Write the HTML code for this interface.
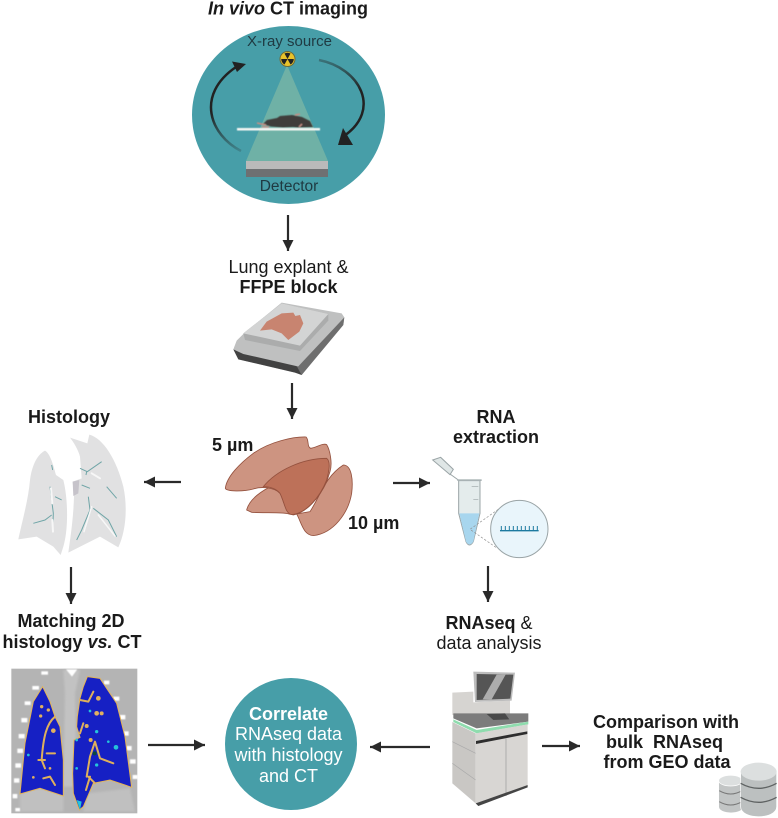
<!DOCTYPE html>
<html><head><meta charset="utf-8"><style>
html,body{margin:0;padding:0;background:#fff}
svg{display:block}
text{font-family:"Liberation Sans",Arial,sans-serif;fill:#1a1a1a}
.b{font-weight:700}
</style></head><body>
<svg width="778" height="818" viewBox="0 0 778 818" xmlns="http://www.w3.org/2000/svg">
<defs>
<marker id="a" viewBox="0 0 10 10" refX="10" refY="5" markerUnits="userSpaceOnUse" markerWidth="11" markerHeight="11" orient="auto"><path d="M0 0L10 5L0 10z" fill="#2a2a2a"/></marker>
<filter id="s"><feGaussianBlur stdDeviation="0.5"/></filter>
<filter id="s1"><feGaussianBlur stdDeviation="1.500"/></filter>
<filter id="s2"><feGaussianBlur stdDeviation="3"/></filter>
<linearGradient id="hl" x1="0" y1="1" x2="0" y2="0"><stop offset="0" stop-color="#222" stop-opacity=".2"/><stop offset=".45" stop-color="#222"/></linearGradient>
<linearGradient id="hr" x1="0" y1="0" x2="0" y2="1"><stop offset="0" stop-color="#222" stop-opacity=".35"/><stop offset=".4" stop-color="#222"/></linearGradient>
</defs>

<!-- CT -->
<text x="288" y="14.500" text-anchor="middle" font-size="18" class="b"><tspan font-style="italic">In vivo</tspan> CT imaging</text>
<ellipse cx="288.500" cy="115" rx="96.500" ry="89" fill="#479ea8"/>
<polygon points="287,65 246,161 328,161" fill="#6fb1a6"/>
<text x="289.500" y="46" text-anchor="middle" font-size="15" style="fill:#1f3a42">X-ray source</text>
<circle cx="287.500" cy="59" r="7.500" fill="#e8c22a" stroke="#6b6a3a"/>
<g fill="#222"><path d="M287.500 59L284.500 53.500A6.500 6.500 0 0 1 290.500 53.500Z"/><path d="M287.500 59L293.800 59A6.500 6.500 0 0 1 290.500 64.500Z"/><path d="M287.500 59L284.500 64.500A6.500 6.500 0 0 1 281.200 59Z"/></g>
<g filter="url(#s)">
<rect x="237" y="128" width="83" height="2.500" fill="#f4f6f3"/>
<path d="M263 124l4-4 10-2 3-2 12-1 10 2 8 4 3 6-15 .5-5-.5-10 .5-12-1z" fill="#403d3a"/>
<path d="M257 123l9 2M262 127l7 0M299 127l3-3M295 115l5-1" stroke="#c58e85" stroke-width="1.500" fill="none"/>
</g>
<rect x="246" y="161" width="82" height="8" fill="#bababa"/>
<rect x="246" y="169" width="82" height="8" fill="#6e7072"/>
<text x="289" y="191" text-anchor="middle" font-size="15.500" style="fill:#1f3a42">Detector</text>
<path d="M241 151C210 135 195 95 236 67" fill="none" stroke="url(#hl)" stroke-width="2.500"/>
<path d="M246 64L232 61.500L237 72Z" fill="#222"/>
<path d="M319 60C360 68 382 110 344 136" fill="none" stroke="url(#hr)" stroke-width="2.500"/>
<path d="M338 145L343 128L353 145Z" fill="#222"/>

<line x1="288" y1="215" x2="288" y2="251" stroke="#2a2a2a" stroke-width="2.200" marker-end="url(#a)"/>
<text x="288.500" y="273" text-anchor="middle" font-size="18">Lung explant &amp;</text>
<text x="288.500" y="293" text-anchor="middle" font-size="18" class="b">FFPE block</text>

<!-- Block -->
<g transform="translate(210,290) scale(.3333)" filter="url(#s)">
<path d="M70 178L80 152L100 132L215 38L395 70L403 82L400 105L275 255L255 248L85 208Z" fill="#bfc0c0"/>
<path d="M70 178L85 208L255 248L275 255L270 232L258 228L100 192Z" fill="#434343"/>
<path d="M262 232L403 82L400 105L275 255Z" fill="#6e6e6e"/>
<path d="M100 130L215 40L355 72L355 92L270 183L105 150Z" fill="#abacac"/>
<path d="M100 130L215 40L355 72L270 167Z" fill="#d3d4d4"/>
<path d="M150 122L170 95L215 70L250 68L256 78L270 75L280 100L268 125L235 150L215 130L185 118Z" fill="#c8846f"/>
</g>
<line x1="292" y1="383" x2="292" y2="419" stroke="#2a2a2a" stroke-width="2.200" marker-end="url(#a)"/>

<!-- Slices -->
<g transform="translate(210,290) scale(.3333)" stroke="#94513e" stroke-width="2.500">
<path d="M300 665C330 620 345 560 400 525C425 525 430 570 425 610C415 670 370 730 310 737C280 735 275 700 260 672Z" fill="#cd9481"/>
<path d="M110 660C120 620 170 590 240 565C280 530 330 500 350 505C365 515 360 540 350 575C330 620 290 670 240 673C225 665 160 670 125 667Z" fill="#cd9481"/>
<path d="M46 595C50 560 90 520 130 490C180 455 250 440 288 441C298 450 290 470 302 475C320 472 340 458 350 464C360 480 368 520 360 545C345 600 300 665 250 675C225 670 225 640 210 610C190 590 150 590 130 597C100 605 50 605 46 595Z" fill="#cd9481"/>
<path d="M160 590C200 540 280 505 350 505C362 515 358 540 350 570C330 620 290 670 245 674C225 670 225 640 210 610C195 592 175 590 160 590Z" fill="#bd7159"/>
</g>
<text x="212" y="451" font-size="18" class="b">5 µm</text>
<text x="348" y="529" font-size="18" class="b">10 µm</text>

<!-- Histology -->
<text x="69" y="423" text-anchor="middle" font-size="18" class="b">Histology</text>
<g transform="translate(0,400) scale(.3333)">
<path d="M135 152C150 160 160 195 168 225L190 240C205 300 205 390 190 440L182 465L160 440L110 410L55 418C65 370 85 300 90 240C95 200 110 165 135 152Z" fill="#e1e1e2"/>
<path d="M268 104C310 115 350 180 370 260C385 330 375 400 355 442L300 410L205 458C210 420 220 360 222 290L218 245L245 235L240 170C235 150 220 125 210 113L262 130Z" fill="#e1e1e2"/>
<g fill="none" stroke="#6fa5a7" stroke-width="3" filter="url(#s)">
<path d="M155 195L158 210M150 260L160 340L158 395M100 370L135 360L155 345M165 290L185 300"/>
<path d="M240 205L262 215L305 185M260 215L258 225M265 290L270 330L245 390L230 420M280 325L325 360L350 410M320 260L350 295M245 255L270 265"/>
</g>
<g fill="none" stroke="#f7f7f7" stroke-linecap="round"><path d="M153 265L157 310M157 360L159 395" stroke-width="6"/><path d="M275 220L300 235" stroke-width="6"/><path d="M275 320L252 395M295 345L345 408" stroke-width="4.500"/></g>
<path d="M218 245L238 240L235 280L220 288Z" fill="#c6c3ca"/>
</g>
<line x1="181" y1="482" x2="144" y2="482" stroke="#2a2a2a" stroke-width="2.200" marker-end="url(#a)"/>
<line x1="393" y1="483" x2="430" y2="483" stroke="#2a2a2a" stroke-width="2.200" marker-end="url(#a)"/>
<line x1="71" y1="567" x2="71" y2="604" stroke="#2a2a2a" stroke-width="2.200" marker-end="url(#a)"/>
<text x="71" y="627" text-anchor="middle" font-size="18" class="b">Matching 2D</text>
<text x="72" y="648" text-anchor="middle" font-size="18" class="b">histology <tspan font-style="italic">vs.</tspan> CT</text>

<!-- CT image -->
<g transform="translate(0,660) scale(.3333)">
<rect x="34" y="26" width="378" height="434" fill="#b4b4b4"/>
<g filter="url(#s2)">
<path d="M190 30H240L225 100L230 380H190L195 100Z" fill="#c2c2c2"/>
<path d="M60 400Q120 370 190 405L190 455H60ZM260 400L390 385L405 455H250Z" fill="#c0c0c0"/>
</g>
<g fill="#fff" filter="url(#s1)"><rect x="124" y="34" width="20" height="10"/><rect x="97" y="78" width="20" height="11"/><rect x="74" y="124" width="18" height="11"/><rect x="64" y="174" width="18" height="13"/><rect x="56" y="222" width="18" height="13"/><rect x="52" y="266" width="17" height="13"/><rect x="46" y="310" width="17" height="13"/><rect x="42" y="355" width="16" height="13"/><rect x="38" y="402" width="14" height="13"/><rect x="46" y="444" width="14" height="10"/><rect x="312" y="62" width="16" height="11"/><rect x="340" y="110" width="18" height="12"/><rect x="358" y="165" width="18" height="13"/><rect x="368" y="214" width="18" height="13"/><rect x="380" y="258" width="15" height="13"/><rect x="390" y="298" width="17" height="13"/><rect x="398" y="345" width="15" height="12"/><path d="M198 28H232L216 50Z"/></g>
<path d="M128 80L150 125L165 170L180 200L190 300L190 408L120 385L60 402L75 250L100 125Z" fill="#1620c4" stroke="#e3b45a" stroke-width="3"/>
<path d="M262 50L300 55L350 130L375 230L395 382L330 360L280 370L250 440L238 450L220 400L218 340L222 240L240 232L230 200L232 170L240 115L250 80Z" fill="#1620c4" stroke="#e3b45a" stroke-width="3"/>
<g fill="none" stroke="#dfb05c" stroke-width="6" stroke-linecap="round" stroke-linejoin="round">
<path d="M165 170C140 190 130 230 125 300L135 325M115 300H135M140 280H165M130 355L150 350L165 375"/>
<path d="M240 120L265 125L280 95M260 350L270 290L285 245L300 295L340 310M270 350L258 390M240 220L250 190M285 370L265 350"/>
</g>
<g fill="#e0b060"><circle cx="145" cy="150" r="5"/><circle cx="125" cy="140" r="5"/><circle cx="160" cy="212" r="7"/><circle cx="122" cy="168" r="5"/><circle cx="290" cy="160" r="7"/><circle cx="305" cy="160" r="6"/><circle cx="260" cy="198" r="6"/><circle cx="295" cy="115" r="7"/><circle cx="272" cy="240" r="6"/><circle cx="100" cy="352" r="4"/><circle cx="150" cy="325" r="4"/></g>
<g fill="#25c3da"><circle cx="85" cy="285" r="4"/><circle cx="290" cy="215" r="5"/><circle cx="348" cy="262" r="7"/><circle cx="325" cy="245" r="4"/><circle cx="290" cy="315" r="5"/><circle cx="230" cy="240" r="4"/><circle cx="230" cy="325" r="4"/><circle cx="270" cy="153" r="4"/><path d="M230 420L245 425L240 450Z"/></g>
<circle cx="284" cy="280" r="6" fill="#0b4a3c"/>
</g>

<!-- Tube -->
<text x="496" y="423" text-anchor="middle" font-size="18" class="b">RNA</text>
<text x="496" y="443" text-anchor="middle" font-size="18" class="b">extraction</text>
<g transform="translate(420,440) scale(.3333)">
<path d="M38 60L62 52L100 88L90 104Z" fill="#dfe6e6" stroke="#9aa4a6" stroke-width="3"/>
<path d="M90 102L115 120" stroke="#9aa4a6" stroke-width="3"/>
<path d="M116 122H180V220L160 305Q148 325 138 305L116 220Z" fill="#e4ecec" stroke="#9aa4a6" stroke-width="3"/>
<rect x="112" y="118" width="73" height="5" fill="#a8b2b4"/>
<path d="M118 220H178L160 305Q148 322 138 305Z" fill="#a8d6ee"/>
<path d="M155 140h20M160 178h15" stroke="#9aa4a6" stroke-width="2"/>
<path d="M235 208L150 268L232 325" fill="none" stroke="#8f8f8f" stroke-width="2" stroke-dasharray="7 5"/>
<circle cx="298" cy="267" r="86" fill="#e9f5fb" stroke="#9aa4a6" stroke-width="3"/>
<path d="M240 272H356" stroke="#1d7aa0" stroke-width="4"/>
<path d="M244 270v-12M256 270v-12M268 270v-12M280 270v-12M292 270v-12M304 270v-12M316 270v-12M328 270v-12M340 270v-12M352 270v-12" stroke="#1d7aa0" stroke-width="3"/>
</g>
<line x1="488" y1="566" x2="488" y2="602" stroke="#2a2a2a" stroke-width="2.200" marker-end="url(#a)"/>
<text x="489" y="629" text-anchor="middle" font-size="18"><tspan class="b">RNAseq</tspan> &amp;</text>
<text x="489" y="649" text-anchor="middle" font-size="18">data analysis</text>

<!-- Correlate -->
<circle cx="291" cy="744" r="66" fill="#479ea8"/>
<text x="288.500" y="720" text-anchor="middle" font-size="18" class="b" style="fill:#fff">Correlate</text>
<text x="288.500" y="740" text-anchor="middle" font-size="18" style="fill:#fff">RNAseq data</text>
<text x="288.500" y="761" text-anchor="middle" font-size="18" style="fill:#fff">with histology</text>
<text x="288.500" y="782" text-anchor="middle" font-size="18" style="fill:#fff">and CT</text>
<line x1="148" y1="745" x2="205" y2="745" stroke="#2a2a2a" stroke-width="2.200" marker-end="url(#a)"/>
<line x1="430" y1="747" x2="370" y2="747" stroke="#2a2a2a" stroke-width="2.200" marker-end="url(#a)"/>
<line x1="542" y1="746" x2="580" y2="746" stroke="#2a2a2a" stroke-width="2.200" marker-end="url(#a)"/>

<!-- Sequencer -->
<g transform="translate(440,670) scale(.3333)" filter="url(#s)">
<path d="M37 68L100 65V97L210 92V135H37Z" fill="#d6d4d1"/>
<path d="M100 5L225 8L215 92L105 96Z" fill="#bdbdbd"/>
<path d="M110 12L220 14L211 86L110 90Z" fill="#555"/>
<path d="M128 88L170 14L197 14L155 88Z" fill="#adadad"/>
<path d="M40 130H265V155L110 175L40 145Z" fill="#7c7c7c"/>
<path d="M140 132L195 130L208 148L160 150Z" fill="#4a4a4a"/>
<path d="M40 148L110 180L265 155V163L110 190L40 156Z" fill="#8fdcae"/>
<path d="M37 156L107 190V400L37 340Z" fill="#c9c7c4"/>
<path d="M107 190L263 163V345L107 400Z" fill="#d8d6d3"/>
<path d="M108 213L262 184V192L108 222Z" fill="#2d2d2d"/>
<path d="M198 205V378" stroke="#999" stroke-width="2"/>
<path d="M37 215L107 250M37 280L107 330" stroke="#aaa" stroke-width="2"/>
<path d="M107 400L263 345V352L115 408Z" fill="#444"/>
</g>
<text x="666" y="728" text-anchor="middle" font-size="18" class="b">Comparison with</text>
<text x="664.500" y="748" text-anchor="middle" font-size="18" class="b">bulk &#160;RNAseq</text>
<text x="667" y="768" text-anchor="middle" font-size="18" class="b">from GEO data</text>

<!-- Databases -->
<g transform="translate(420,660) scale(.3333)">
<g fill="#c2c5c5" stroke="#fff" stroke-width="2">
<path d="M896 360V440C896 465 970 465 970 440V360Z"/>
<ellipse cx="932" cy="362" rx="36" ry="16" fill="#dcdfdf"/>
</g>
<path d="M898 392Q932 412 966 392M898 425Q932 445 966 425" stroke="#777" stroke-width="3" fill="none"/>
<path d="M962 335V440C962 480 1070 480 1070 440V335Z" fill="#bcc0c0" stroke="#fff" stroke-width="2"/>
<ellipse cx="1016" cy="335" rx="54" ry="27" fill="#dcdfdf"/>
<path d="M962 370Q1016 400 1070 370M962 412Q1016 442 1070 412" stroke="#5f6363" stroke-width="4" fill="none"/>
</g>
</svg>
</body></html>
